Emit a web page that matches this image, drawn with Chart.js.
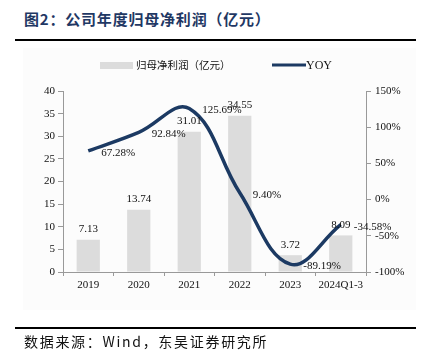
<!DOCTYPE html>
<html>
<head>
<meta charset="utf-8">
<script src="https://cdn.jsdelivr.net/npm/chart.js@4/dist/chart.umd.min.js"></script>
<style>
  html, body { margin: 0; padding: 0; background: #fff; }
  body { width: 423px; height: 352px; position: relative; overflow: hidden; }
  #title { position: absolute; left: 24px; top: 8px; font: bold 15px "Noto Sans CJK SC", sans-serif; color: #1f3864; white-space: nowrap; letter-spacing: 0.8px; }
  .rule { position: absolute; left: 15px; width: 401px; height: 2px; background: #000; }
  #panel { position: absolute; left: 23px; top: 48px; width: 393px; height: 262px; background: #fcfcfc; }
  #source { position: absolute; left: 24px; top: 331px; font: 14px "Noto Sans CJK SC", sans-serif; color: #111; white-space: nowrap; letter-spacing: 1.7px; }
  #chart { position: absolute; left: 0; top: 0; }
</style>
</head>
<body>
<div id="title">图2：公司年度归母净利润（亿元）</div>
<div class="rule" style="top:39px"></div>
<div id="panel"></div>
<canvas id="chart" width="423" height="352"></canvas>
<div class="rule" style="top:327px"></div>
<div id="source">数据来源：Wind，东吴证券研究所</div>
<script>
const years = ['2019', '2020', '2021', '2022', '2023', '2024Q1-3'];
const profit = [7.13, 13.74, 31.01, 34.55, 3.72, 8.09];
const yoy = [67.28, 92.84, 125.69, 9.40, -89.19, -34.58];

const serif = '"Liberation Serif", "Times New Roman", serif';

// value labels + hand drawn legend
const labelPlugin = {
  id: 'labels',
  afterDraw(chart) {
    const ctx = chart.ctx;
    const area = chart.chartArea;
    ctx.save();
    ctx.font = '11px ' + serif;
    ctx.fillStyle = '#111';
    chart.getDatasetMeta(1).data.forEach((bar, i) => {
      ctx.textAlign = 'center';
      ctx.textBaseline = 'bottom';
      ctx.fillText(profit[i].toFixed(2), bar.x, bar.y - 5);
    });
    chart.getDatasetMeta(0).data.forEach((pt, i) => {
      ctx.textAlign = 'left';
      ctx.textBaseline = 'middle';
      ctx.fillText(yoy[i].toFixed(2) + '%', pt.x + 13, pt.y + 2);
    });

    // legend
    const ly = area.top - 26;
    const bars = chart.data.datasets[1];
    const line = chart.data.datasets[0];
    ctx.fillStyle = bars.backgroundColor;
    ctx.fillRect(area.left + 37, ly - 3, 33, 7);
    ctx.fillStyle = '#111';
    ctx.textAlign = 'left';
    ctx.textBaseline = 'middle';
    ctx.font = '10.5px "Noto Sans CJK SC", sans-serif';
    ctx.fillText(bars.label, area.left + 73, ly);
    ctx.strokeStyle = line.borderColor;
    ctx.lineWidth = 3;
    ctx.beginPath();
    ctx.moveTo(area.left + 209, ly);
    ctx.lineTo(area.left + 243, ly);
    ctx.stroke();
    ctx.font = '12px ' + serif;
    ctx.fillText(line.label, area.left + 243, ly + 1);
    ctx.restore();
  }
};

new Chart(document.getElementById('chart'), {
  data: {
    labels: years,
    datasets: [{
      type: 'line',
      label: 'YOY',
      data: yoy,
      yAxisID: 'y1',
      borderColor: '#1c3a63',
      borderWidth: 3.5,
      pointRadius: 0,
      tension: 0.4,
      capBezierPoints: false,
      order: 0
    }, {
      type: 'bar',
      label: '归母净利润（亿元）',
      data: profit,
      yAxisID: 'y',
      backgroundColor: '#dcdcdc',
      categoryPercentage: 1,
      barPercentage: 0.46,
      order: 1
    }]
  },
  options: {
    responsive: false,
    animation: false,
    devicePixelRatio: 1,
    layout: { padding: { left: 18, right: 7, top: 91, bottom: 50 } },
    plugins: {
      legend: { display: false },
      tooltip: { enabled: false }
    },
    scales: {
      x: {
        offset: true,
        afterFit: s => { s.height = 30; },
        border: { color: '#999' },
        grid: { drawOnChartArea: false, offset: true, tickLength: 4, color: '#999' },
        ticks: { color: '#111', font: { family: serif, size: 11 }, padding: 3, maxRotation: 0, autoSkip: false }
      },
      y: {
        position: 'left',
        min: 0,
        max: 40,
        afterFit: s => { s.width = 45; },
        border: { color: '#999' },
        grid: { drawOnChartArea: false, tickLength: 5, color: '#999' },
        ticks: { stepSize: 5, color: '#111', font: { family: serif, size: 11 }, padding: 3 }
      },
      y1: {
        position: 'right',
        min: -100,
        max: 150,
        afterFit: s => { s.width = 50; },
        border: { color: '#999' },
        grid: { drawOnChartArea: false, tickLength: 5, color: '#999' },
        ticks: { stepSize: 50, color: '#111', font: { family: serif, size: 11 }, padding: 4,
          callback: v => v + '%' }
      }
    }
  },
  plugins: [labelPlugin]
});
</script>
</body>
</html>
